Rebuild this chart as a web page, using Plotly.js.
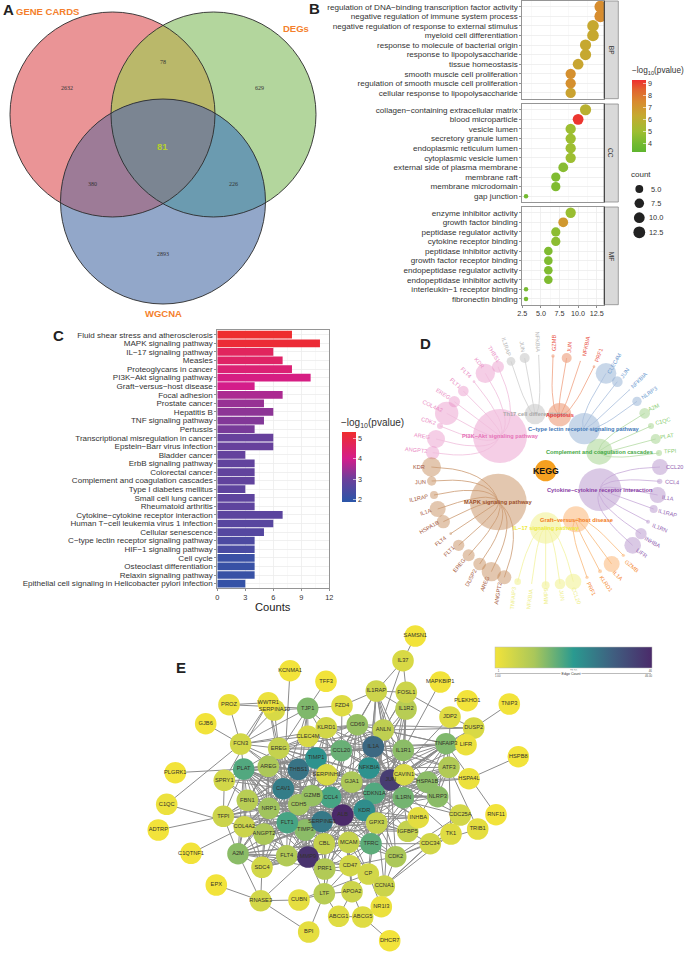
<!DOCTYPE html>
<html><head><meta charset="utf-8">
<script src="https://cdn.plot.ly/plotly-3.0.1.min.js"></script>
<style>html,body{margin:0;padding:0;background:#fff}</style></head>
<body><div id="chart" style="width:685px;height:953px"></div>
<script>
const W=685,H=953,SANS='"Liberation Sans",Arial,sans-serif',SERIF='"Liberation Serif",serif';
/* ---------- Panel A data ---------- */
const vennNames=['GENE CARDS','DEGs','WGCNA'];
const vennCounts=['2632','78','629','81','380','226','2893'];
/* ---------- Panel B data ---------- */
const bpTerms=['regulation of DNA−binding transcription factor activity','negative regulation of immune system process','negative regulation of response to external stimulus','myeloid cell differentiation','response to molecule of bacterial origin','response to lipopolysaccharide','tissue homeostasis','smooth muscle cell proliferation','regulation of smooth muscle cell proliferation','cellular response to lipopolysaccharide'];
const bpCount=[13,13,12,12,11,11,10,9,9,9];
const bpLogP=[7.4,7.4,6.4,6.4,6.4,6.4,6.5,7.3,7.3,6.6];
const ccTerms=['collagen−containing extracellular matrix','blood microparticle','vesicle lumen','secretory granule lumen','endoplasmic reticulum lumen','cytoplasmic vesicle lumen','external side of plasma membrane','membrane raft','membrane microdomain','gap junction'];
const ccCount=[11,10,9,9,9,9,8,7,7,3];
const ccLogP=[5.9,9.2,5.0,5.0,5.0,5.0,4.5,4.3,4.3,4.0];
const mfTerms=['enzyme inhibitor activity','growth factor binding','peptidase regulator activity','cytokine receptor binding','peptidase inhibitor activity','growth factor receptor binding','endopeptidase regulator activity','endopeptidase inhibitor activity','interleukin−1 receptor binding','fibronectin binding'];
const mfCount=[9,8,7,7,6,6,6,6,3,3];
const mfLogP=[4.9,7.0,4.6,4.6,4.3,4.3,4.3,4.3,4.1,4.1];
const sizeLegend=[5,7.5,10,12.5];
const sizeLegendText=['5.0','7.5','10.0','12.5'];
/* ---------- Panel C data ---------- */
const keggTerms=['Fluid shear stress and atherosclerosis','MAPK signaling pathway','IL−17 signaling pathway','Measles','Proteoglycans in cancer','PI3K−Akt signaling pathway','Graft−versus−host disease','Focal adhesion','Prostate cancer','Hepatitis B','TNF signaling pathway','Pertussis','Transcriptional misregulation in cancer','Epstein−Barr virus infection','Bladder cancer','ErbB signaling pathway','Colorectal cancer','Complement and coagulation cascades','Type I diabetes mellitus','Small cell lung cancer','Rheumatoid arthritis','Cytokine−cytokine receptor interaction','Human T−cell leukemia virus 1 infection','Cellular senescence','C−type lectin receptor signaling pathway','HIF−1 signaling pathway','Cell cycle','Osteoclast differentiation','Relaxin signaling pathway','Epithelial cell signaling in Helicobacter pylori infection'];
const keggCount=[8,11,6,7,8,10,4,7,5,6,5,4,6,6,3,4,4,4,3,4,4,7,6,5,4,4,4,4,4,3];
const keggLogP=[5.25,5.15,4.6,4.5,4.3,4.1,4.0,3.6,3.4,3.3,3.2,3.1,2.9,2.9,2.85,2.8,2.8,2.8,2.75,2.75,2.75,2.7,2.65,2.6,2.45,2.4,2.15,2.1,2.1,2.05];
/* ---------- Panel D data: hub [name, x, y, diameter, fill, edge, label colour] in crop units (3/px) ---------- */
const dHubs={
 pi3k:['PI3K−Akt signaling pathway',330,318,162,'#e78ac3','#f0bedc','#e672b8'],
 th17:['Th17 cell differentiation',435,252,62,'#b3b3b3','#cfcfcf','#a9a9a9'],
 apop:['Apoptosis',509,254,70,'#e5703f','#f0a283','#e8383c'],
 ctype:['C−type lectin receptor signaling pathway',583,296,94,'#7c9fcb','#a9bfdd','#3f78b8'],
 comp:['Complement and coagulation cascades',628,365,78,'#8cc870','#b4dba3','#45a845'],
 cyto:['Cytokine−cytokine receptor interaction',630,479,128,'#a67fc0','#c6a9d8','#8a3fa5'],
 graft:['Graft−versus−host disease',558,568,78,'#fba04d','#f9b97a','#f47c20'],
 il17:['IL−17 signaling pathway',467,594,94,'#ecec6a','#f3f3a0','#eeea3a'],
 mapk:['MAPK signaling pathway',325,516,170,'#bd7a40','#cc9a72','#9c4f28']};
const dLabelColour={pi3k:'#ea8cc4',th17:'#b5b5b5',apop:'#e9503f',ctype:'#6f9bd0',comp:'#86cb6c',cyto:'#935fb2',graft:'#f58a35',il17:'#eeee85',mapk:'#a5593d'};
const dLeaves=[
['pi3k','THBS1',324,110,36,312,72,58],['pi3k','KDR',286,130,58,268,100,50],['pi3k','FLT4',252,155,8,230,128,45],['pi3k','FLT1',220,183,32,196,160,40],['pi3k','EREG',193,215,34,160,193,32],['pi3k','COL4A2',170,250,70,128,227,25],['pi3k','CDK2',150,288,18,116,274,17],['pi3k','AREG',138,327,54,97,318,8],['pi3k','ANGPT2',128,368,40,78,360,5],
['mapk','KDR',124,411,58,88,411,0],['mapk','JUN',125,453,28,92,457,-3],['mapk','IL1RAP',132,495,24,88,504,-12],['mapk','IL1A',143,537,48,107,547,-20],['mapk','HSPA1B',160,575,40,118,590,-30],['mapk','FLT4',182,611,8,152,632,-38],['mapk','FLT1',206,646,34,178,664,-45],['mapk','EREG',236,676,36,208,705,-50],['mapk','DUSP2',269,702,38,243,745,-62],['mapk','AREG',304,725,58,284,762,-68],['mapk','ANGPT2',343,742,42,325,790,-80],
['il17','TNFAIP3',383,755,20,370,805,-85],['il17','NFKBIA',425,760,4,420,808,-82],['il17','MMP9',467,766,24,467,800,-90],['il17','JUN',510,762,32,516,795,82],['il17','CCL20',550,755,48,560,797,70],
['graft','PRF1',591,742,10,604,777,65],['graft','KLRD1',630,724,12,649,762,55],['graft','IL1A',665,702,48,685,737,45],['graft','GZMB',700,676,10,725,707,40],
['cyto','LIFR',728,646,50,755,668,35],['cyto','INHBA',753,611,34,787,636,28],['cyto','IL1RN',774,575,12,810,594,22],['cyto','IL1RAP',791,537,24,833,549,15],['cyto','IL1A',803,495,48,835,503,8],['cyto','CCL4',809,454,16,847,457,3],['cyto','CCL20',810,411,48,853,411,0],
['comp','TFPI',807,369,18,841,363,-3],['comp','PLAT',797,327,30,832,317,-8],['comp','C1QC',783,288,18,820,272,-15],['comp','A2M',764,250,32,793,232,-25],
['ctype','NLRP3',741,214,28,776,188,-35],['ctype','NFKBIA',718,180,4,748,151,-45],['ctype','JUN',682,155,32,704,128,-55],['ctype','CLEC4M',648,130,62,674,100,-60],
['apop','PRF1',612,110,8,627,76,-70],['apop','NFKBIA',571,94,4,587,50,-78],['apop','JUN',530,84,30,537,53,-85],['apop','GZMB',489,78,10,490,38,-90],
['th17','NFKBIA',446,76,4,444,35,88],['th17','JUN',404,84,30,398,50,80],['th17','IL1RAP',363,94,26,350,50,72]];
const dRoot=[467,422];
/* ---------- Panel E data ---------- */
const geneNames=['KCNMA1','TFF3','FZD4','TJP1','PROZ','SERPINA10','WWTR1','GJB6','CLEC4M','KLRD1','FCN3','EREG','CCL20','AREG','PLAT','THBS1','PLGRK1','SPRY1','CAV1','CDH5','TIMP1','SERPINH1','CCL4','GZMB','FBN1','C1QC','NRP1','TFPI','TIMP3','FLT1','SERPINE1','COL4A2','ADTRP','ANGPT2','ALB','CBL','MCAM','A2M','C1QTNF1','FLT4','MMP9','SDC4','PRF1','CD47','EPX','CUBN','LTF','APOA2','RNASE3','ABCG1','BPI','SAMSN1','IL37','IL1R2','IL1RAP','FOSL1','MAPKBIP1','PLEKHO1','TNIP3','JDP2','DUSP2','CD69','ANLN','TNFAIP3','LIFR','IL1A','IL1R1','HSPB8','ATF3','NFKBIA','HSPA4L','JUN','CAVIN1','HSPA1B','GJA1','CDKN1A','NLRP3','IL1RN','KDR','CDC25A','RNF11','IGFBP5','INHBA','GPX3','TRIB1','TK1','CDC34','TFRC','CDK2','CP','CCNA1','NR1I3','ABCG5','DHCR7'];
const geneX=[290,326,342,307.7,229,274.3,268.3,205.7,308,326.3,240.7,278.7,341.3,268.3,243.7,298.3,175.3,224.3,283.3,298.7,316,326.7,330.7,312,247.3,166.7,269,223.3,305.3,287.3,322,244.3,158.3,264,342.7,324.3,348.7,238,191,286.7,308,262,324.7,350,216.3,299,324.3,352,260.7,338.7,308.7,415.3,403,406,376.3,406.3,440.3,467.3,509.3,450,473.7,357.3,383.3,446,466,373.3,403.3,518.3,449,369,469,390.7,404,427.3,351.7,374.3,437.7,403.3,364.3,460.3,496,407.7,418.3,376.7,477.7,451,430.3,371,395.7,368.3,384.3,381.3,362.7,389.7];
const geneY=[670.7,681.3,705.7,708.3,704.7,710,702.7,723.7,736.3,727.7,744,748.3,750.7,766.3,769,769.3,772.7,780.3,788.7,804.7,758,774.7,797.3,795.7,800.3,804.3,808.3,816.3,830,822.7,821.7,826.7,830,834,815,843.7,842.3,853.7,853.3,855.7,857,867.3,869,865.7,885,900,893.7,891.7,900.7,916.3,932,636,660.7,709,691,692.3,682,700.7,704,717,728,724.7,730,743.7,744.7,746.7,750.3,756.7,767.3,768,778.7,780,774.7,782,782,793.3,796.7,797.7,810.3,815,814.7,831.3,817.7,823,829,834,843.7,843.7,856.7,874,886,906.7,917,940.7];
const geneEdges=[1,1,4,16,2,5,2,1,5,6,6,8,18,12,20,31,1,6,29,13,25,5,21,14,10,2,13,7,15,21,30,7,1,12,46,8,8,15,1,11,44,6,11,6,1,3,10,7,6,4,3,1,5,10,7,7,1,1,1,4,5,14,9,16,2,33,15,1,11,25,2,42,5,15,12,20,15,17,26,6,1,8,3,8,3,4,6,19,12,6,7,2,4,1];
const geneLinks=[
'KCNMA1:CAV1','TFF3:TJP1','FZD4:TJP1 IL1RAP CD69 CCL20','TJP1:CAV1 GJA1 CLEC4M PROZ THBS1 JUN SERPINA10 FCN3 CDH5 FBN1','PROZ:FCN3 WWTR1','GJB6:FCN3','PLGRK1:PLAT','C1QC:FCN3 COL4A2','ADTRP:TFPI','C1QTNF1:COL4A2',
'EPX:RNASE3','BPI:RNASE3 LTF','RNASE3:CUBN MMP9 A2M','CUBN:LTF','LTF:CD47 APOA2 PRF1 MMP9 ALB','TNIP3:DUSP2','HSPB8:HSPA4L','RNF11:TNFAIP3','TRIB1:ATF3 CDC34','DHCR7:ABCG5','NR1I3:CP ABCG5','ABCG5:ABCG1 APOA2','ABCG1:APOA2 LTF','SAMSN1:IL37','IL37:IL1RAP FOSL1 IL1A','MAPKBIP1:IL1R1','JDP2:FOSL1 ATF3 DUSP2 JUN','DUSP2:CD69 TNFAIP3 ANLN','FOSL1:JUN IL1R1 IL1RAP IL1A ANLN','IL1R2:IL1A IL1RAP IL1R1 IL1RN',
'CDC25A:CDC34 TK1 CCNA1 CDK2 CDKN1A JUN','TK1:CDC34 CDK2 CCNA1','CDC34:CDK2 CCNA1 TFRC','CDK2:CCNA1 TFRC CDKN1A JUN ALB GPX3','CCNA1:CP CDKN1A','HSPA4L:HSPA1B JUN','LIFR:IL1A JUN',
'ALB:TIMP1 SERPINH1 SERPINE1 CCL4 CDH5 FLT1 TIMP3 CBL MCAM CD47 APOA2 CP GPX3 TFRC KDR GJA1 CDKN1A NFKBIA IL1A IL1RN IL1R1 JUN CAV1 PLAT A2M FBN1 AREG EREG THBS1 COL4A2 MMP9 CCL20 IGFBP5 INHBA TNFAIP3 ANLN CD69 FCN3 SDC4 TFPI NRP1 ANGPT2 GZMB PRF1',
'JUN:IL1A NFKBIA CDKN1A KDR CAVIN1 HSPA1B ATF3 TNFAIP3 IL1R1 IL1RN IL1RAP INHBA TIMP1 THBS1 CAV1 PLAT SERPINE1 MMP9 CCL20 CCL4 GJA1 EREG AREG FLT1 TFPI CCNA1 TK1 NLRP3 DUSP2 TFRC GPX3 ANLN CD69 SPRY1 NRP1 COL4A2',
'MMP9:TIMP1 TIMP3 SERPINE1 THBS1 CAV1 FLT1 FLT4 KDR PLAT AREG EREG COL4A2 FBN1 A2M SDC4 CDH5 CD47 TFRC PRF1 GZMB IL1A IL1RN CBL',
'KDR:FLT1 FLT4 NRP1 ANGPT2 CAV1 THBS1 CDH5 SERPINE1 TIMP1 TIMP3 COL4A2 PLAT CDKN1A GJA1 NFKBIA IL1A TFRC MCAM CBL',
'IL1A:IL1R1 IL1RN IL1RAP NFKBIA CCL20 CCL4 TNFAIP3 NLRP3 HSPA1B PLAT SERPINE1 TIMP1 EREG AREG CD69 ANLN KLRD1 CLEC4M GZMB',
'CAV1:THBS1 PLAT SERPINE1 TIMP1 FLT1 GJA1 TFRC NRP1 AREG EREG FBN1 TFPI A2M COL4A2 SPRY1 KLRD1 CDKN1A',
'THBS1:TIMP1 TIMP3 SERPINE1 PLAT FBN1 COL4A2 FLT1 SDC4 NRP1 ANGPT2 FCN3 TFPI A2M AREG EREG',
'TIMP1:SERPINE1 TIMP3 PLAT GJA1 A2M SERPINH1 COL4A2 CDH5 CCL20 TFRC',
'SERPINE1:PLAT TFPI A2M FBN1 FLT1 TIMP3 GPX3 NFKBIA CDKN1A IGFBP5 INHBA AREG EREG',
'NFKBIA:CDKN1A IL1R1 IL1RN TNFAIP3 CCL20 CCL4 NLRP3 HSPA1B ATF3 CAVIN1 GJA1 CD69',
'CDKN1A:ATF3 GJA1 HSPA1B TFRC NLRP3 IL1RN GZMB PRF1',
'CCL20:CCL4 IL1R1 CD69 KLRD1 CLEC4M GZMB ANLN','CCL4:GZMB PRF1 CD69 KLRD1 NLRP3',
'PLAT:FBN1 TFPI A2M COL4A2 AREG EREG FLT1 NRP1 ANGPT2 CDH5 FLT4 SPRY1 FCN3 GZMB',
'FLT1:FLT4 NRP1 ANGPT2 CDH5 TIMP3 SDC4 COL4A2 AREG EREG SPRY1',
'TFRC:GPX3 CP CD47 MCAM GJA1 CBL HSPA1B','IL1RN:IL1R1 IL1RAP NLRP3 HSPA1B INHBA IGFBP5','IL1R1:IL1RAP TNFAIP3 NLRP3 CAVIN1 ATF3 ANLN','TNFAIP3:ATF3 NLRP3 HSPA1B CD69 CAVIN1 ANLN CCL4','HSPA1B:NLRP3 ATF3 CAVIN1 GJA1 CDC25A','ATF3:NLRP3 INHBA TK1',
'A2M:COL4A2 FBN1 SDC4 TFPI FLT4 TIMP3','COL4A2:FBN1 SDC4 TIMP3 ANGPT2 NRP1 FLT4','FBN1:SDC4 TIMP3 SPRY1 TFPI AREG','TFPI:SPRY1 NRP1 FLT1 GZMB','NRP1:ANGPT2 CDH5 FLT4 SDC4 EREG','ANGPT2:FLT4 CDH5 TIMP3 SDC4 AREG','AREG:EREG FCN3 SPRY1 CLEC4M ANLN CDH5','EREG:FCN3 SERPINA10 WWTR1 ANLN CD69 CLEC4M','FCN3:CLEC4M SERPINA10 WWTR1 CD69','CLEC4M:KLRD1 CD69 GZMB','KLRD1:GZMB PRF1 CD69','WWTR1:SPRY1 SERPINA10 CAV1','GZMB:PRF1 CDH5','CDH5:FLT4 TIMP3','TIMP3:CBL GPX3 IGFBP5','GPX3:CBL CP MCAM IGFBP5','IGFBP5:CDC34 INHBA','CBL:MCAM PRF1','MCAM:CD47 CP APOA2','CD47:CP APOA2 PRF1','CP:APOA2 CUBN','SDC4:RNASE3 FLT4','FLT4:PRF1','GJA1:CAVIN1 ANLN','ANLN:CD69 IL1RAP','CAVIN1:CD69 IL1RAP',
'IL1RAP:CD69 CCL20 NFKBIA KDR','IL1R2:JUN NFKBIA ALB','CD69:CCL20 GJA1 TIMP1 KDR CDKN1A','ANLN:IL1R1 NFKBIA CDKN1A KDR GPX3 TFRC','INHBA:TIMP1 CDKN1A KDR','IGFBP5:KDR CDKN1A','GJA1:SERPINH1 CCL4 GZMB KDR','SERPINH1:CCL4 GZMB CDH5 SERPINE1 CBL','CCL4:KDR CBL MCAM SERPINE1 CDH5','TIMP3:MCAM PRF1 FLT4 TFRC','CDH5:SERPINE1 GZMB MCAM CBL','NRP1:THBS1 FBN1 TIMP1 GZMB','FLT1:GZMB TIMP1 CCL4 MCAM','AREG:NRP1 FBN1 TIMP1 GZMB SERPINH1','EREG:CDH5 NRP1 TIMP1 CCL20 SERPINH1','FBN1:CDH5 GZMB SERPINH1 KDR','PLAT:TIMP3 CCL4 CBL','COL4A2:CDH5 KDR CBL','A2M:CBL PRF1 MCAM CD47 FLT1','SDC4:CBL MCAM TFRC ALB','PRF1:MCAM TFRC CP','CBL:CD47 TFRC','CDK2:CD47 MCAM','GPX3:KDR CDKN1A NFKBIA','TNFAIP3:ALB KDR CDKN1A TFRC','CAVIN1:KDR CCL4','HSPA1B:KDR IL1A TFRC','NLRP3:KDR CCL20 GZMB','IL1RN:KDR CD69 GPX3','IL1R1:KDR CD69 CDKN1A','ATF3:KDR TFRC SERPINE1 IL1A','CLEC4M:TIMP1 SERPINH1 CCL4','KLRD1:CCL20 TIMP1 TFRC'];

/* ---------- helpers ---------- */
const xDom=(a,b)=>[a/W,b/W], yDom=(a,b)=>[1-b/H,1-a/H];
const annotations=[],shapes=[],traces=[];
const note=(x,y,text,o={})=>annotations.push(Object.assign({xref:'x',yref:'y',x,y,text,showarrow:false,borderpad:0,align:'center',
  font:{family:SANS,size:o.size||7,color:o.color||'#333'}},o.extra||{}));
const bold=t=>'<b>'+t+'</b>';

/* ---------- Panel A ---------- */
const vennCentres=[[112.5,114.5],[213.5,114.5],[163,201.5]], vennR=102.5;
const vennFill=['#ea9496','#b3d69d','#92a7c9'];
/* overlap colours: [members, colour] */
const vennOverlaps=[[[0,1],'#bab86a'],[[0,2],'#9d7b97'],[[1,2],'#6b9bb0'],[[0,1,2],'#7b8592']];
const inC=(p,i)=>Math.hypot(p[0]-vennCentres[i][0],p[1]-vennCentres[i][1])<=vennR+1e-6;
const lensPath=m=>{
  let pts=[];
  m.forEach(i=>{for(let k=0;k<720;k++){const a=k*Math.PI/360,p=[vennCentres[i][0]+vennR*Math.cos(a),vennCentres[i][1]+vennR*Math.sin(a)];
    if(m.every(j=>j===i||inC(p,j)))pts.push(p);}});
  const c=[pts.reduce((s,p)=>s+p[0],0)/pts.length,pts.reduce((s,p)=>s+p[1],0)/pts.length];
  pts.sort((a,b)=>Math.atan2(a[1]-c[1],a[0]-c[0])-Math.atan2(b[1]-c[1],b[0]-c[0]));
  return 'M'+pts.map(p=>p[0].toFixed(2)+','+p[1].toFixed(2)).join('L')+'Z';
};
const vennOutline=(c)=>({type:'circle',xref:'x',yref:'y',x0:c[0]-vennR,x1:c[0]+vennR,y0:c[1]-vennR,y1:c[1]+vennR,layer:'below'});
vennCentres.forEach((c,i)=>shapes.push(Object.assign(vennOutline(c),{fillcolor:vennFill[i],line:{width:0}})));
vennOverlaps.forEach(o=>shapes.push({type:'path',xref:'x',yref:'y',path:lensPath(o[0]),fillcolor:o[1],line:{width:0},layer:'below'}));
vennCentres.forEach(c=>shapes.push(Object.assign(vennOutline(c),{fillcolor:'rgba(0,0,0,0)',line:{color:'#2b2b2b',width:0.9}})));
const vennNamePos=[[47,11.5],[296,28],[163,313]];
vennNames.forEach((n,i)=>note(vennNamePos[i][0],vennNamePos[i][1],bold(n),{size:9.5,color:'#f47f2c'}));
const vennCountPos=[[67,88],[163,62],[259,88],[162,146],[92,184],[233,184],[163,254]];
vennCounts.forEach((n,i)=>{ if(n==='81') note(vennCountPos[i][0],vennCountPos[i][1],bold(n),{size:9.5,color:'#b6cf2e'});
  else annotations.push({xref:'x',yref:'y',x:vennCountPos[i][0],y:vennCountPos[i][1],text:n,showarrow:false,font:{family:SERIF,size:6,color:'#333'}});});
/* panel letters */
[['A',8,9],['B',314,8],['C',58,335],['D',425,343],['E',181,667.5]].forEach(p=>note(p[1],p[2],bold(p[0]),{size:15,color:'#222'}));

/* ---------- Panel B ---------- */
const goSize=c=>1.5*(3+5*Math.sqrt(Math.max(c-3,0)/10));
const goColorscale=[[0,'#5fb52f'],[0.11,'#72ba30'],[0.28,'#9dbe31'],[0.5,'#c5aa30'],[0.7,'#d98a2f'],[0.87,'#e2622f'],[1,'#ee2f2f']];
[[bpTerms,bpCount,bpLogP,'2'],[ccTerms,ccCount,ccLogP,'3'],[mfTerms,mfCount,mfLogP,'4']].forEach(f=>{
  traces.push({type:'scatter',mode:'markers',x:f[1],y:f[0],xaxis:'x'+f[3],yaxis:'y'+f[3],hoverinfo:'skip',
    marker:{size:f[1].map(goSize),color:f[2],coloraxis:'coloraxis',line:{width:0},opacity:1}});
});
const bx=xDom(522.3,604.3), bRows=[[1,98.7],[104,202],[207,304.7]];
const bAxes=(i,terms,last)=>{
  return [{domain:bx,range:[2.5,13.52],anchor:'y'+(i+2),showline:true,mirror:true,linecolor:'#8a8a8a',linewidth:0.9,
    tickvals:last?[2.5,5,7.5,10,12.5]:[],ticktext:last?['2.5','5.0','7.5','10.0','12.5']:[],ticks:last?'outside':'',ticklen:2,tickcolor:'#444',tickwidth:0.6,
    tickfont:{family:SANS,size:7.2,color:'#333'},showgrid:true,gridcolor:'#ececec',gridwidth:0.8,zeroline:false,
    minor:{tickvals:[3.75,6.25,8.75,11.25],showgrid:true,gridcolor:'#f3f3f3',gridwidth:0.5,ticks:''}},
   {domain:yDom(bRows[i][0],bRows[i][1]),type:'category',categoryorder:'array',categoryarray:terms,tickmode:'array',tickvals:terms,range:[9.6,-0.6],anchor:'x'+(i+2),showline:true,mirror:true,linecolor:'#8a8a8a',linewidth:0.9,
    ticks:'outside',ticklen:2,tickcolor:'#444',tickwidth:0.6,tickfont:{family:SANS,size:8.1,color:'#333'},showgrid:true,gridcolor:'#ececec',gridwidth:0.8,automargin:false}];
};
const facetNames=['BP','CC','MF'];
bRows.forEach((r,i)=>{
  shapes.push({type:'rect',xref:'x',yref:'y',x0:604.3,x1:618.3,y0:r[0],y1:r[1],fillcolor:'#d9d9d9',line:{color:'#8a8a8a',width:0.8},layer:'above'});
  shapes.push({type:'line',xref:'x',yref:'y',x0:604.3,x1:604.3,y0:r[0],y1:r[1],line:{color:'#333',width:1},layer:'above'});
  annotations.push({xref:'x',yref:'y',x:611,y:(r[0]+r[1])/2,text:facetNames[i],textangle:90,showarrow:false,font:{family:SANS,size:6.5,color:'#333'}});
});
note(658,71,'−log<sub>10</sub>(pvalue)',{size:8.2});
note(641,174,'count',{size:8});
const sizeLegendY=[189,203.3,217.7,232.3];
traces.push({type:'scatter',mode:'markers',x:sizeLegend.map(()=>639.3),y:sizeLegendY,xaxis:'x',yaxis:'y',hoverinfo:'skip',
  marker:{size:sizeLegend.map(goSize),color:'#222',opacity:1,line:{width:0}},cliponaxis:false});
sizeLegendText.forEach((t,i)=>note(655.5,sizeLegendY[i],t,{size:7.4}));

/* ---------- Panel C ---------- */
traces.push({type:'bar',orientation:'h',x:keggCount,y:keggTerms,xaxis:'x5',yaxis:'y5',width:0.9,hoverinfo:'skip',
  marker:{color:keggLogP,coloraxis:'coloraxis2',line:{width:0}}});
note(372,422.7,'−log<sub>10</sub>(pvalue)',{size:10});
note(273,606.5,'Counts',{size:11.2,color:'#222'});

/* ---------- Panel D ---------- */
Object.keys(dHubs).forEach(k=>{
  const h=dHubs[k], lf=dLeaves.filter(l=>l[0]===k);
  traces.push({type:'scatter',mode:'markers',x:[h[1],...lf.map(l=>l[2])],y:[h[2],...lf.map(l=>l[3])],xaxis:'x6',yaxis:'y6',hoverinfo:'skip',cliponaxis:false,
    marker:{size:[h[3],...lf.map(l=>l[4])].map(d=>d/3),color:h[4],opacity:0.42,line:{width:0}}});
});
Object.keys(dHubs).forEach(k=>{
  const h=dHubs[k], lf=dLeaves.filter(l=>l[0]===k), ex=[], ey=[];
  lf.forEach(l=>{
    const ang=Math.atan2(l[3]-dRoot[1],l[2]-dRoot[0]), r=Math.hypot(h[1]-dRoot[0],h[2]-dRoot[1]);
    const cx=dRoot[0]+r*Math.cos(ang), cy=dRoot[1]+r*Math.sin(ang);
    for(let t=0;t<=10;t++){const u=t/10,v=1-u; ex.push(v*v*l[2]+2*u*v*cx+u*u*h[1]); ey.push(v*v*l[3]+2*u*v*cy+u*u*h[2]);}
    ex.push(null);ey.push(null);
  });
  traces.push({type:'scatter',mode:'lines',x:ex,y:ey,xaxis:'x6',yaxis:'y6',hoverinfo:'skip',line:{color:h[5],width:0.8},connectgaps:false});
});
traces.push({type:'scatter',mode:'markers',x:[dRoot[0]],y:[dRoot[1]],xaxis:'x6',yaxis:'y6',hoverinfo:'skip',marker:{size:64/3,color:'#f5a020',opacity:1,line:{width:0}}});
const dNote=(x,y,text,color,size,angle)=>annotations.push({xref:'x6',yref:'y6',x,y,text,showarrow:false,textangle:angle||0,borderpad:0,font:{family:SANS,size,color}});
dLeaves.forEach(l=>dNote(l[5],l[6],l[1],dLabelColour[l[0]],5.6,l[7]));
Object.keys(dHubs).forEach(k=>{const h=dHubs[k];dNote(h[1],h[2]+1,bold(h[0]),h[6],5.7,0);});
dNote(467,422,bold('KEGG'),'#111',8.8,0);

/* ---------- Panel E ---------- */
const gIdx={}; geneNames.forEach((g,i)=>gIdx[g]=i);
const lx=[],ly=[];
geneLinks.forEach(s=>{const [a,rest]=s.split(':');rest.split(' ').forEach(b=>{
  const i=gIdx[a],j=gIdx[b]; lx.push(geneX[i],geneX[j],null); ly.push(geneY[i],geneY[j],null);});});
traces.push({type:'scatter',mode:'lines',x:lx,y:ly,xaxis:'x',yaxis:'y',hoverinfo:'skip',line:{color:'#8c8c8c',width:1}});
traces.push({type:'scatter',mode:'markers+text',x:geneX,y:geneY,xaxis:'x',yaxis:'y',hoverinfo:'skip',text:geneNames,textposition:'middle center',
  textfont:{family:SANS,size:5.7,color:'#33322a'},marker:{size:21.6,color:geneEdges,coloraxis:'coloraxis3',opacity:1,line:{width:0}}});
shapes.push({type:'line',xref:'x',yref:'y',x0:495,x1:651,y0:673.5,y1:673.5,line:{color:'#aaa',width:0.8},layer:'above'});
annotations.push({xref:'x',yref:'y',x:571,y:673.5,text:'Edge Count',showarrow:false,bgcolor:'#fff',borderpad:0.5,font:{family:SANS,size:3.6,color:'#333'}});
annotations.push({xref:'x',yref:'y',x:498,y:675.5,text:'1.00',showarrow:false,font:{family:SANS,size:2.8,color:'#555'}});
annotations.push({xref:'x',yref:'y',x:648,y:675.5,text:'46.00',showarrow:false,font:{family:SANS,size:2.8,color:'#555'}});

/* ---------- layout ---------- */
const cbBase={lenmode:'pixels',thicknessmode:'pixels',xanchor:'left',yanchor:'top',xpad:0,ypad:0,outlinewidth:0,borderwidth:0,ticks:'inside',tickcolor:'#fff',tickwidth:0.6};
const [bx2,by2]=bAxes(0,bpTerms,false),[bx3,by3]=bAxes(1,ccTerms,false),[bx4,by4]=bAxes(2,mfTerms,true);
const layout={width:W,height:H,margin:{l:0,r:0,t:0,b:0},paper_bgcolor:'#fff',plot_bgcolor:'rgba(0,0,0,0)',showlegend:false,
  xaxis:{domain:[0,1],range:[0,W],visible:false,fixedrange:true},
  yaxis:{domain:[0,1],range:[H,0],visible:false,fixedrange:true},
  xaxis2:bx2,yaxis2:by2,xaxis3:bx3,yaxis3:by3,xaxis4:bx4,yaxis4:by4,
  xaxis5:{domain:xDom(217.3,329.3),range:[0,12],anchor:'y5',tickvals:[0,3,6,9,12],ticks:'outside',ticklen:2,tickcolor:'#444',tickwidth:0.6,tickfont:{family:SANS,size:7.4,color:'#333'},
    showline:true,mirror:true,linecolor:'#8a8a8a',linewidth:0.9,showgrid:true,gridcolor:'#ececec',gridwidth:0.8,zeroline:false,minor:{tickvals:[1.5,4.5,7.5,10.5],showgrid:true,gridcolor:'#f3f3f3',gridwidth:0.5,ticks:''}},
  yaxis5:{domain:yDom(330,588.3),type:'category',categoryorder:'array',categoryarray:keggTerms,range:[29.55,-0.55],anchor:'x5',ticks:'outside',ticklen:2,tickcolor:'#444',tickwidth:0.6,
    tickfont:{family:SANS,size:8.05,color:'#333'},showline:true,mirror:true,linecolor:'#8a8a8a',linewidth:0.9,showgrid:true,gridcolor:'#ececec',gridwidth:0.8,tickmode:'array',tickvals:keggTerms},
  xaxis6:{domain:xDom(390,685),range:[0,885],visible:false,anchor:'y6'},
  yaxis6:{domain:yDom(330,610),range:[840,0],visible:false,anchor:'x6'},
  coloraxis:{cmin:3.33,cmax:9.3,colorscale:goColorscale,colorbar:Object.assign({},cbBase,{x:632.3/W,y:1-80/H,len:72,thickness:14,tickvals:[4,5,6,7,8,9],tickfont:{family:SANS,size:7.2,color:'#333'},ticklen:3})},
  coloraxis2:{cmin:1.87,cmax:5.28,colorscale:[[0,'#2a56a8'],[0.33,'#6d3f9b'],[0.62,'#d41d8b'],[1,'#ef2d2d']],colorbar:Object.assign({},cbBase,{x:342.3/W,y:1-432.3/H,len:70,thickness:14.4,tickvals:[2,3,4,5],tickfont:{family:SANS,size:7.2,color:'#333'},ticklen:3})},
  coloraxis3:{cmin:1,cmax:46,colorscale:[[0,'#f2e33a'],[0.25,'#aac75a'],[0.5,'#2a9a90'],[0.75,'#3f5f80'],[1,'#4b2a6a']],colorbar:Object.assign({},cbBase,{orientation:'h',x:495/W,y:1-646.7/H,len:156.7,thickness:20.6,ticks:'',tickvals:[2,23.5,45.5],ticktext:['1','23.50','46'],tickfont:{family:SANS,size:2.8,color:'#555'},outlinewidth:0.5,outlinecolor:'#bbb'})},
  annotations,shapes};
Plotly.newPlot('chart',traces,layout,{staticPlot:true,displayModeBar:false});
</script></body></html>
